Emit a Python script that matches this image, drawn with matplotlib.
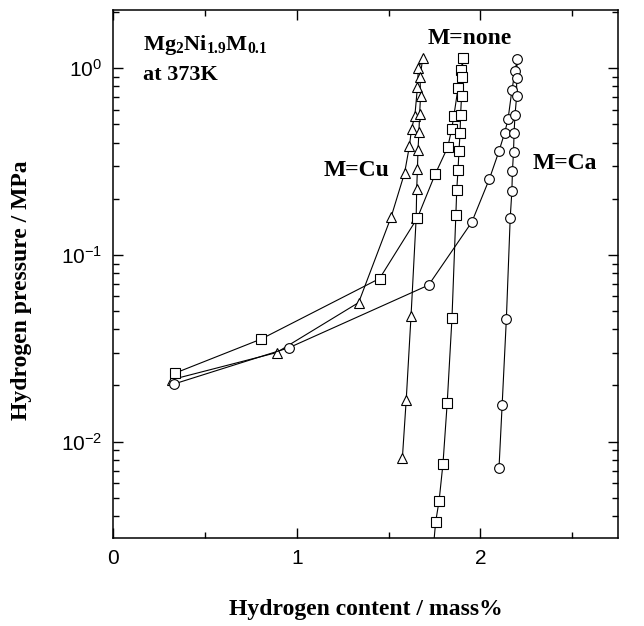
import matplotlib
matplotlib.use("Agg")
import matplotlib.pyplot as plt
from matplotlib.ticker import MultipleLocator, LogLocator, NullFormatter

plt.rcParams['font.family'] = ['Liberation Sans', 'DejaVu Sans']
plt.rcParams['mathtext.fontset'] = 'custom'
plt.rcParams['mathtext.rm'] = 'Liberation Serif'
plt.rcParams['mathtext.bf'] = 'Liberation Serif:bold'

# M=Cu (triangles): plateau, left branch up, right branch down
cu_x = [0.32, 0.89, 1.337, 1.514, 1.587, 1.613, 1.625, 1.643, 1.657, 1.662, 1.686,
        1.671, 1.674, 1.669, 1.665, 1.660, 1.657, 1.653, 1.650, 1.622, 1.596, 1.575]
cu_y = [0.0215, 0.030, 0.0556, 0.16, 0.275, 0.381, 0.474, 0.558, 0.79, 1.0, 1.13,
        0.895, 0.714, 0.57, 0.455, 0.363, 0.29, 0.226, 0.157, 0.0469, 0.0168, 0.00817]

# M=none (squares)
none_x = [0.338, 0.805, 1.451, 1.657, 1.753, 1.822, 1.843, 1.855, 1.878, 1.895, 1.904,
          1.901, 1.897, 1.892, 1.889, 1.883, 1.878, 1.871, 1.866, 1.845, 1.819, 1.796,
          1.775, 1.756, 1.745]
none_y = [0.0233, 0.0354, 0.0748, 0.158, 0.27, 0.378, 0.47, 0.553, 0.785, 0.98, 1.13,
          0.895, 0.708, 0.565, 0.449, 0.36, 0.286, 0.223, 0.163, 0.0459, 0.0161, 0.00762,
          0.00484, 0.00371, 0.0028]

# M=Ca (circles)
ca_x = [0.334, 0.959, 1.718, 1.953, 2.049, 2.101, 2.131, 2.150, 2.171, 2.188, 2.200,
        2.197, 2.197, 2.188, 2.183, 2.180, 2.174, 2.171, 2.162, 2.141, 2.118, 2.101]
ca_y = [0.0204, 0.0319, 0.069, 0.15, 0.256, 0.36, 0.449, 0.532, 0.76, 0.964, 1.12,
        0.885, 0.706, 0.563, 0.449, 0.358, 0.28, 0.219, 0.158, 0.0454, 0.0157, 0.00724]

fig = plt.figure(figsize=(6.44, 6.26), dpi=100)
ax = fig.add_axes([0.1755, 0.1406, 0.7845, 0.8434])

style = dict(color='black', lw=0.8, mfc='white', mec='black', mew=0.8)
ax.plot(cu_x, cu_y, marker='^', ms=7.5, **style)
ax.plot(none_x, none_y, marker='s', ms=6.5, **style)
ax.plot(ca_x, ca_y, marker='o', ms=7, **style)

ax.set_yscale('log')
ax.set_xlim(0, 2.75)
ax.set_ylim(3.05e-3, 2.05)

ax.xaxis.set_major_locator(MultipleLocator(1))
ax.xaxis.set_minor_locator(MultipleLocator(0.5))
ax.yaxis.set_major_locator(LogLocator(base=10, numticks=10))
ax.yaxis.set_minor_locator(LogLocator(base=10, subs=range(2, 10), numticks=20))
ax.yaxis.set_minor_formatter(NullFormatter())

ax.tick_params(which='both', direction='in', top=True, right=True, width=1)
ax.tick_params(which='major', length=7, labelsize=15)
ax.tick_params(which='minor', length=4.5)
ax.tick_params(axis='x', pad=8)
ax.tick_params(axis='y', pad=8)
for s in ax.spines.values():
    s.set_linewidth(1.1)

lab = dict(family='Liberation Serif', fontweight='bold', fontsize=17)
ax.set_xlabel('Hydrogen content / mass%', labelpad=22, **lab)
ax.set_ylabel('Hydrogen pressure / MPa', **lab)
ax.yaxis.set_label_coords(-0.16, 0.47)

ax.text(0.163, 1.33, r'$\mathbf{Mg_2Ni_{1.9}M_{0.1}}$', fontsize=16, va='center', ha='left')
ax.text(0.163, 0.918, 'at 373K', va='center', ha='left', family='Liberation Serif',
        fontweight='bold', fontsize=16)
ax.text(1.939, 1.44, 'M=none', va='center', ha='center', **lab)
ax.text(1.324, 0.284, 'M=Cu', va='center', ha='center', **lab)
ax.text(2.458, 0.307, 'M=Ca', va='center', ha='center', **lab)

fig.savefig('out.png', dpi=100)
